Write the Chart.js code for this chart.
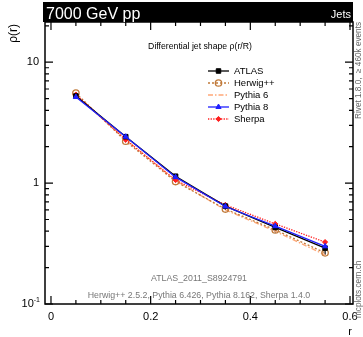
<!DOCTYPE html>
<html>
<head>
<meta charset="utf-8">
<script src="https://cdn.jsdelivr.net/npm/chart.js@4.4.1/dist/chart.umd.min.js"></script>
<style>
  html, body { margin: 0; padding: 0; background: #fff; }
  #wrap { width: 363px; height: 337px; }
</style>
</head>
<body>
<div id="wrap"><canvas id="jetShape" width="363" height="337"></canvas></div>
<script>
// bin centres in r
const rBins = [0.05, 0.15, 0.25, 0.35, 0.45, 0.55];

// measured + generator predictions of rho(r)
const atlas    = [5.25, 2.42, 1.14, 0.645, 0.43, 0.29];
const atlasErr = [0.20, 0.09, 0.05, 0.045, 0.04, 0.035];
const herwig   = [5.55, 2.22, 1.03, 0.610, 0.41, 0.265];
const pythia6  = [5.35, 2.30, 1.05, 0.600, 0.40, 0.255];
const pythia8  = [5.15, 2.42, 1.12, 0.640, 0.44, 0.300];
const sherpa   = [5.40, 2.28, 1.06, 0.660, 0.46, 0.325];

const xTickLabels = ['0', '0.2', '0.4', '0.6'];
const xTickValues = [0, 0.2, 0.4, 0.6];

const FONT = '"Liberation Sans", Arial, sans-serif';

function pts(vals) {
  return rBins.map((r, i) => ({ x: r, y: vals[i] }));
}

///////////////////////////////////////////////////////////////
// frame, ticks, texts, legend
///////////////////////////////////////////////////////////////

const decorPlugin = {
  id: 'decor',
  beforeDatasetsDraw(chart) {
    // error bars on the data points
    const ctx = chart.ctx, xs = chart.scales.x, ys = chart.scales.y;
    ctx.save();
    ctx.strokeStyle = '#000';
    ctx.lineWidth = 1.2;
    rBins.forEach((r, i) => {
      const px = xs.getPixelForValue(r);
      ctx.beginPath();
      ctx.moveTo(px, ys.getPixelForValue(atlas[i] - atlasErr[i]));
      ctx.lineTo(px, ys.getPixelForValue(atlas[i] + atlasErr[i]));
      ctx.stroke();
    });
    ctx.restore();
  },
  afterDraw(chart) {
    const ctx = chart.ctx;
    const { left, right, top, bottom } = chart.chartArea;
    const xs = chart.scales.x, ys = chart.scales.y;

    ctx.save();
    ctx.strokeStyle = '#000';
    ctx.fillStyle = '#000';

    // frame
    ctx.lineWidth = 1.5;
    ctx.strokeRect(left, top, right - left, bottom - top);

    // x ticks (inside, top and bottom)
    ctx.lineWidth = 1.2;
    for (let k = 0; k <= 12; k++) {
      const v = k * 0.05;
      const px = xs.getPixelForValue(v);
      const len = (k % 4 === 0) ? 8 : 4;
      ctx.beginPath();
      ctx.moveTo(px, bottom); ctx.lineTo(px, bottom - len);
      ctx.moveTo(px, top); ctx.lineTo(px, top + len);
      ctx.stroke();
    }

    // y ticks (log)
    [0.1, 1, 10].forEach(dec => {
      for (let m = 1; m <= 9; m++) {
        const v = dec * m;
        if (v > ys.max || v < ys.min) continue;
        const py = ys.getPixelForValue(v);
        const len = m === 1 ? 8 : 4;
        ctx.beginPath();
        ctx.moveTo(left, py); ctx.lineTo(left + len, py);
        ctx.moveTo(right, py); ctx.lineTo(right - len, py);
        ctx.stroke();
      }
    });

    // x tick labels
    ctx.font = '11px ' + FONT;
    ctx.textAlign = 'center';
    ctx.textBaseline = 'middle';
    xTickValues.forEach((v, i) => {
      ctx.fillText(xTickLabels[i], xs.getPixelForValue(v), bottom + 13);
    });

    // y tick labels
    ctx.textAlign = 'right';
    ctx.fillText('10', left - 6, ys.getPixelForValue(10));
    ctx.fillText('1', left - 6, ys.getPixelForValue(1));
    const p01 = ys.getPixelForValue(0.1);
    ctx.font = '7px ' + FONT;
    ctx.fillText('-1', left - 5, p01 - 4);
    const supW = ctx.measureText('-1').width;
    ctx.font = '11px ' + FONT;
    ctx.fillText('10', left - 5 - supW, p01);

    // axis titles
    ctx.textAlign = 'right';
    ctx.fillText('r', right - 1, bottom + 28);
    ctx.save();
    ctx.translate(14, top);
    ctx.rotate(-Math.PI / 2);
    ctx.textAlign = 'right';
    ctx.font = '12px ' + FONT;
    ctx.fillText('ρ(r)', -2, 0);
    ctx.restore();

    // header bar
    ctx.fillStyle = '#000';
    ctx.fillRect(left - 2, 2, right - left + 2, top - 2);
    ctx.fillStyle = '#fff';
    ctx.textAlign = 'left';
    ctx.textBaseline = 'alphabetic';
    ctx.font = '16px ' + FONT;
    ctx.fillText('7000 GeV pp', left + 1, top - 3);
    ctx.textAlign = 'right';
    ctx.font = '11px ' + FONT;
    ctx.fillText('Jets', right - 2, top - 4);

    // plot title
    ctx.fillStyle = '#000';
    ctx.textAlign = 'center';
    ctx.textBaseline = 'middle';
    ctx.font = '8.7px ' + FONT;
    ctx.fillText('Differential jet shape ρ(r/R)', 200, 47);

    // legend
    const legX0 = 208, legX1 = 229, legT = 71, legStep = 12;
    chart.data.datasets.forEach((ds, i) => {
      const y = legT + i * legStep;
      ctx.save();
      ctx.strokeStyle = ds.borderColor;
      ctx.lineWidth = ds.borderWidth;
      ctx.setLineDash(ds.borderDash || []);
      ctx.beginPath();
      ctx.moveTo(legX0, y); ctx.lineTo(legX1, y);
      ctx.stroke();
      ctx.setLineDash([]);
      if (ds.pointRadius > 0) {
        ctx.fillStyle = ds.pointBackgroundColor;
        ctx.strokeStyle = ds.pointBorderColor;
        ctx.lineWidth = ds.pointBorderWidth || 1;
        Chart.helpers.drawPoint(ctx, {
          pointStyle: ds.pointStyle,
          radius: ds.pointRadius,
          rotation: 0,
          borderWidth: ds.pointBorderWidth || 1
        }, (legX0 + legX1) / 2, y);
      }
      ctx.restore();
      ctx.fillStyle = '#000';
      ctx.textAlign = 'left';
      ctx.font = '9.5px ' + FONT;
      ctx.fillText(ds.label, legX1 + 5, y + 0.5);
    });

    // analysis / generator footnotes
    ctx.fillStyle = '#777';
    ctx.textAlign = 'center';
    ctx.font = '8.8px ' + FONT;
    ctx.fillText('ATLAS_2011_S8924791', 199, 279);
    ctx.fillText('Herwig++ 2.5.2, Pythia 6.426, Pythia 8.162, Sherpa 1.4.0', 199, 296);

    // side labels, reading upwards
    ctx.save();
    ctx.fillStyle = '#666';
    ctx.translate(right + 5.5, 0);
    ctx.rotate(-Math.PI / 2);
    ctx.font = '8.2px ' + FONT;
    ctx.textAlign = 'right';
    ctx.fillText('Rivet 1.8.0,  \u2265 460k events', -top, 0);
    ctx.textAlign = 'left';
    ctx.fillText('mcplots.cern.ch', -318, 0);
    ctx.restore();

    ctx.restore();
  }
};

///////////////////////////////////////////////////////////////
// chart
///////////////////////////////////////////////////////////////

function line(label, vals, color, opts) {
  return Object.assign({
    label,
    data: pts(vals),
    borderColor: color,
    backgroundColor: color,
    pointBackgroundColor: color,
    pointBorderColor: color,
    borderWidth: 1.3,
    pointRadius: 0,
    pointBorderWidth: 1,
    tension: 0,
    fill: false
  }, opts);
}

new Chart(document.getElementById('jetShape').getContext('2d'), {
  type: 'line',
  data: {
    datasets: [
      line('ATLAS', atlas, '#000000', { pointStyle: 'rect', pointRadius: 3.2, order: 1 }),
      line('Herwig++', herwig, '#c07a3a', {
        borderDash: [2, 2], pointStyle: 'circle', pointRadius: 3.2,
        pointBackgroundColor: 'rgba(255,255,255,0)', pointBorderWidth: 1.3, order: 3
      }),
      line('Pythia 6', pythia6, '#ffa878', { borderDash: [5, 2, 1.5, 2], order: 4 }),
      line('Pythia 8', pythia8, '#2020ff', { pointStyle: 'triangle', pointRadius: 3, order: 0 }),
      line('Sherpa', sherpa, '#ff2020', {
        borderDash: [1.3, 1.3], pointStyle: 'rectRot', pointRadius: 2.6, order: 2
      })
    ]
  },
  options: {
    responsive: false,
    devicePixelRatio: 1,
    animation: false,
    layout: { padding: { left: 45, right: 10, top: 22, bottom: 33 } },
    scales: {
      x: { type: 'linear', display: false, min: -0.012, max: 0.606 },
      y: { type: 'logarithmic', display: false, min: 0.1, max: 21.5 }
    },
    plugins: {
      legend: { display: false },
      tooltip: { enabled: false }
    }
  },
  plugins: [decorPlugin]
});
</script>
</body>
</html>
